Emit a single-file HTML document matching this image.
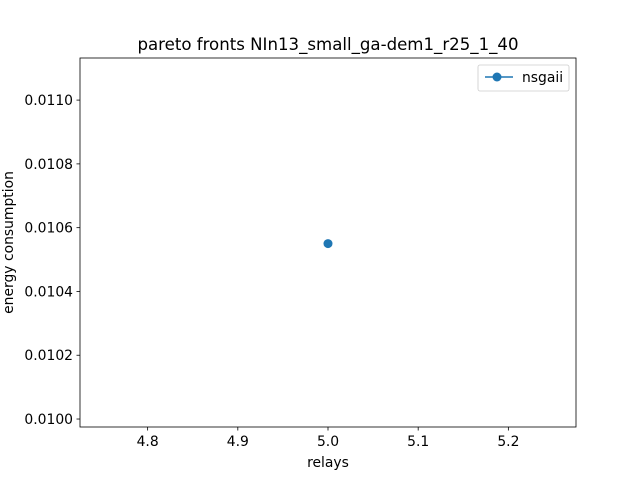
<!DOCTYPE html>
<html><head><meta charset="utf-8"><style>
body{margin:0;background:#fff;font-family:"Liberation Sans","DejaVu Sans",sans-serif;}
svg text{font-family:"DejaVu Sans","Liberation Sans",sans-serif;}
</style></head><body>
<svg id="chart" width="640" height="480" viewBox="0 0 640 480">
<rect width="640" height="480" fill="#fff"/>
<text x="328" y="50" font-size="16.6" text-anchor="middle">pareto fronts NIn13_small_ga-dem1_r25_1_40</text>
<g id="xticks"></g><g id="yticks"></g><g id="marks"></g>
<rect x="80" y="58" width="496" height="369" fill="none" stroke="#000" stroke-width="0.8"/>
<text x="328" y="467" font-size="13.9" text-anchor="middle">relays</text>
<text transform="translate(13,242.5) rotate(-90)" font-size="13.9" text-anchor="middle">energy consumption</text>
<g>
<rect x="478" y="65" width="91" height="26" rx="2" fill="#fff" stroke="#ccc" stroke-width="0.8"/>
<line x1="485" y1="77" x2="513" y2="77" stroke="#1f77b4" stroke-width="1.5"/>
<circle cx="497" cy="77" r="4.5" fill="#1f77b4"/>
<text x="522" y="82" font-size="13.9">nsgaii</text>
</g>
</svg>
<script>
const xTicks=[4.8,4.9,5.0,5.1,5.2];
const yTicks=[0.0100,0.0102,0.0104,0.0106,0.0108,0.0110];
const relays=[5.0];
const energy=[0.01055];
const xMin=4.725,xMax=5.275,yMin=0.009975,yMax=0.011132;
const L=80,R=576,T=58,B=427;
const sx=v=>L+(v-xMin)/(xMax-xMin)*(R-L);
const sy=v=>B-(v-yMin)/(yMax-yMin)*(B-T);
const NS="http://www.w3.org/2000/svg";
function mk(t,a,p){const e=document.createElementNS(NS,t);for(const k in a)e.setAttribute(k,a[k]);p.appendChild(e);return e;}
const gx=document.getElementById('xticks'),gy=document.getElementById('yticks'),gm=document.getElementById('marks');
xTicks.forEach(v=>{const x=sx(v);
const l=mk('line',{x1:x,x2:x,y1:B,y2:B+3.5,stroke:'#000','stroke-width':0.8},gx);


const t=mk('text',{x:x,y:B+19,'font-size':13.9,'text-anchor':'middle'},gx);t.textContent=v.toFixed(1);

});
yTicks.forEach(v=>{const y=sy(v);
const l=mk('line',{x1:L-3.5,x2:L,y1:y,y2:y,stroke:'#000','stroke-width':0.8},gy);


const t=mk('text',{x:L-7,y:y+5,'font-size':13.9,'text-anchor':'end'},gy);t.textContent=v.toFixed(4);

});
relays.forEach((r,i)=>{const c=mk('circle',{cx:sx(r),cy:sy(energy[i]),r:4.5,fill:'#1f77b4'},gm);

});
</script>
</body></html>
